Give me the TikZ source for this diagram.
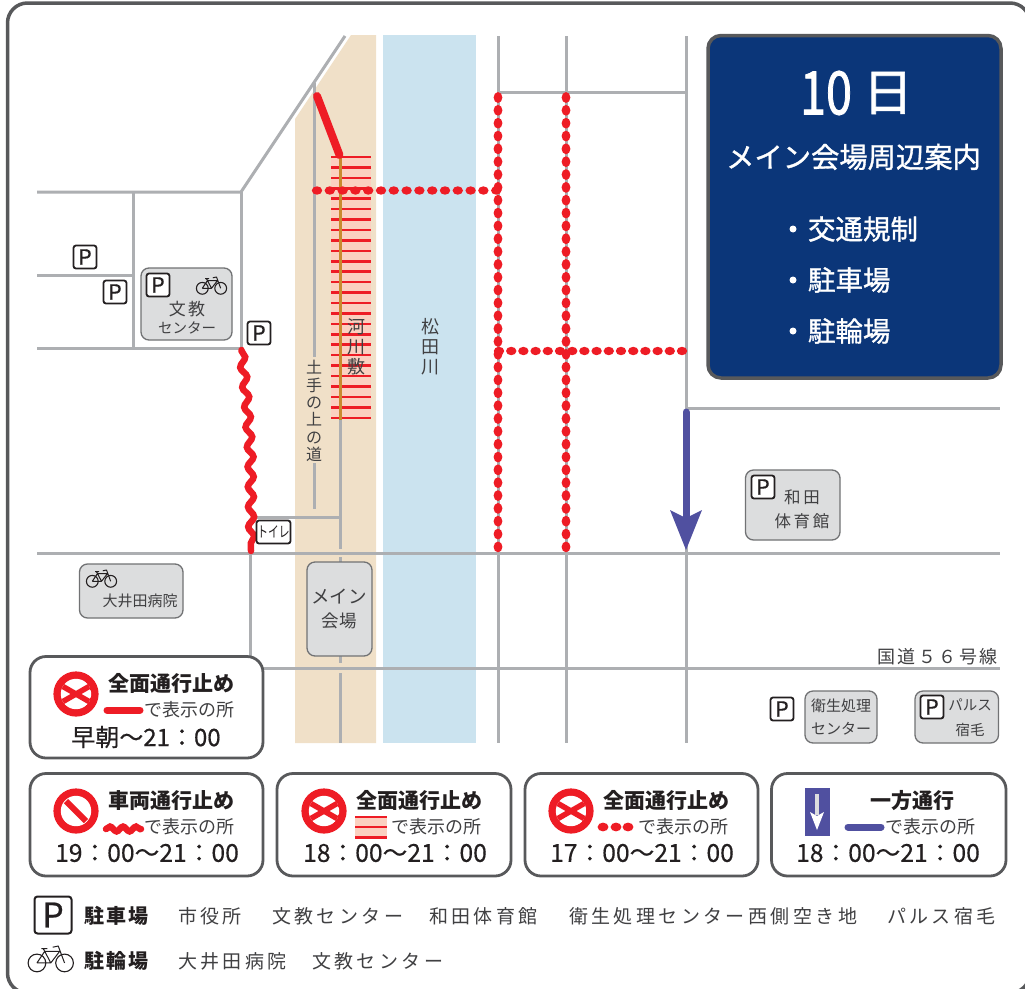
\documentclass[tikz,border=0pt]{standalone}
\usepackage{fontspec}
\setmainfont{Noto Sans CJK JP}
\usetikzlibrary{decorations.pathmorphing,shapes.geometric}
\definecolor{roadc}{HTML}{ADAFB2}
\definecolor{framec}{HTML}{58595B}
\definecolor{navy}{HTML}{0B3679}
\definecolor{beige}{HTML}{F0E0C8}
\definecolor{river}{HTML}{CBE3EF}
\definecolor{signred}{HTML}{EE1C25}
\definecolor{hatchp}{HTML}{FBD0C0}
\definecolor{oneway}{HTML}{5050A0}
\definecolor{bldg}{HTML}{DCDDDE}
\definecolor{inkc}{HTML}{231F20}
\definecolor{softink}{HTML}{404042}
\definecolor{ochre}{HTML}{C98A2E}
\newcommand{\fs}[1]{\fontsize{#1}{#1}\selectfont}
\newcommand{\lsp}[1]{\addfontfeature{LetterSpace=#1}}
\newcommand{\emb}[1]{\addfontfeature{FakeBold=#1}}
\tikzset{
  road/.style={draw=roadc,line width=3pt},
  txt/.style={inner sep=0pt,outer sep=0pt,text=inkc},
  soft/.style={inner sep=0pt,outer sep=0pt,text=softink},
  whitetxt/.style={inner sep=0pt,outer sep=0pt,text=white},
  bldgbox/.style={draw=framec!85,line width=1.3pt,fill=bldg,rounded corners=8pt},
  legendbox/.style={draw=framec,line width=2.8pt,fill=white,rounded corners=16pt},
  picon/.style={draw=inkc,line width=1.8pt,fill=white,rounded corners=2.5pt,minimum width=23pt,minimum height=23pt,inner sep=0pt,text=inkc,font=\fs{21}\emb{0.5}},
  timetxt/.style={inner sep=0pt,outer sep=0pt,text=inkc,font=\fs{24.7}\emb{0.4}},
  reddot/.style={fill=signred,draw=none},
  listtxt/.style={inner sep=0pt,outer sep=0pt,text=softink,anchor=west,font=\fs{19}\lsp{18}},
  keytxt/.style={inner sep=0pt,outer sep=0pt,text=inkc,anchor=west,font=\fs{20}\bfseries\lsp{12}},
  pics/bike/.style={code={
    \draw[inkc,line width=1.1pt] (-8.7,3.3) circle (5.9) (9.7,3.3) circle (5.9);
    \draw[inkc,line width=1pt,line join=round]
      (-8.7,3.3) -- (-3.5,-4.5) -- (6.5,-4.5) -- (.5,3.3) -- (-8.7,3.3)
      (-3.5,-4.5) -- (.5,3.3)
      (9.7,3.3) -- (5.5,-8) -- (1.8,-7.2)
      (-5.8,-6.3) -- (-1.8,-6.3) (-4.6,-6.3) -- (-3.5,-4.5);
  }}
}
\newcommand{\nosign}[2]{%
  \fill[signred] (#1,#2) circle (22.6);
  \begin{scope}
    \clip (#1,#2) circle (15.2);
    \fill[white] (#1,#2) circle (15.2);
    \draw[signred,line width=5.5pt] ([shift={(-20,-11.5)}]#1,#2) -- ([shift={(20,11.5)}]#1,#2);
    \draw[signred,line width=5.5pt] ([shift={(-20,11.5)}]#1,#2) -- ([shift={(20,-11.5)}]#1,#2);
  \end{scope}}
\begin{document}
\begin{tikzpicture}[x=1pt,y=-1pt]
\useasboundingbox (0,0) rectangle (1025,988);
\fill[white] (0,0) rectangle (1025,988);
% outer frame
\begin{scope}
\clip (0,0) rectangle (1025,988);
\draw[framec,line width=3.5pt,rounded corners=20pt] (7.5,3) rectangle (1030,993);
\end{scope}
% land strips
\fill[beige] (351,35) -- (376,35) -- (376,743) -- (295,743) -- (295,119) -- cycle;
\fill[river] (383,35) rectangle (476,743);
% roads
\coordinate (dA) at (241,192);
\coordinate (dB) at (345,36);
\draw[road] (37,553) -- (1000,553);
\draw[road] (250,668) -- (1000,668);
\draw[road] (686,408) -- (1000,408);
\draw[road] (498,92) -- (686,92);
\draw[road] (37,192) -- (dA) -- (dB);
\draw[road] (37,275) -- (133,275);
\draw[road] (37,348) -- (241,348);
\draw[road] (133,192) -- (133,348);
\draw[road] (241,192) -- (241,348);
\draw[road] (498,36) -- (498,743);
\draw[road] (566,36) -- (566,743);
\draw[road] (686,36) -- (686,743);
\draw[road] (250,553) -- (250,668);
\draw[road] (314,83) -- (314,357);
\draw[road] (314,463) -- (314,509);
\draw[road] (252,517) -- (340,517);
\draw[road] (340,420) -- (340,549);
\draw[road] (340,557) -- (340,563);
\draw[road] (340,655) -- (340,663);
\draw[road] (340,673) -- (340,743);
% hatch
\fill[hatchp] (331,157) rectangle (371,419);
\foreach \k in {0,...,25}{\draw[signred,line width=2.5pt] (331,157+\k*10.43) -- (371,157+\k*10.43);}
\draw[ochre,line width=3pt] (340,157) -- (340,420);
% closures
\draw[signred,line width=8pt,line cap=round] (317,96) -- (339.5,155);
\foreach \k in {0,...,35}{
  \fill[reddot] (498,97.5+\k*12.84) ellipse (4.4 and 5.4);
  \fill[reddot] (566,97.5+\k*12.84) ellipse (4.4 and 5.4);}
\foreach \k in {0,...,14}{\fill[reddot] (317+\k*12.8,190.5) ellipse (5.2 and 4.2);}
\foreach \k in {0,...,15}{\fill[reddot] (499+\k*12.2,351) ellipse (5.2 and 4.2);}
\coordinate (wA) at (241.5,350);
\coordinate (wB) at (247,405);
\coordinate (wC) at (250,450);
\coordinate (wD) at (251,551);
\draw[signred,line width=6.5pt,line cap=round,decorate,decoration={snake,segment length=20pt,amplitude=3pt,post length=1pt,pre length=1pt}] (wA) -- (wB) -- (wC) -- (wD);
% one-way arrow
\coordinate (aT) at (686,412);
\coordinate (aB) at (686,520);
\draw[oneway,line width=7pt,line cap=round] (aT) -- (aB);
\fill[oneway] (670,510) -- (686,518) -- (702,510) -- (686,550) -- cycle;
% river labels
\node[soft,align=center,font=\fontsize{18}{20}\selectfont] (nKasen) at (356,347) {河\\川\\敷};
\node[soft,align=center,font=\fontsize{18}{20}\selectfont] (nMatsu) at (430,347) {松\\田\\川};
\node[soft,align=center,font=\fontsize{16}{17.3}\selectfont] (nDote) at (314,411) {土\\手\\の\\上\\の\\道};
% buildings
\draw[bldgbox] (141,268) rectangle (232,340);
\node[picon] (p3) at (158,285) {P};
\pic at (211,285) {bike};
\node[soft,font=\fs{17}\lsp{12}] (b1a) at (187,309) {文教};
\node[soft,font=\fs{14.5}] (b1b) at (187,328) {センター};
\draw[bldgbox] (79.5,564) rectangle (183,618);
\pic at (101,578) {bike};
\node[soft,font=\fs{15}] (b2) at (140,601) {大井田病院};
\draw[bldgbox] (307,562) rectangle (372,656);
\node[soft,font=\fs{18.5}] (b3a) at (339,597) {メイン};
\node[soft,font=\fs{17.5}] (b3b) at (339,621) {会場};
\draw[bldgbox] (745.5,470) rectangle (840,540);
\node[picon] (p5) at (763,487) {P};
\node[soft,font=\fs{16.5}\lsp{16}] (b4a) at (802,497) {和田};
\node[soft,font=\fs{16.5}\lsp{16}] (b4b) at (802,521) {体育館};
\draw[bldgbox] (805,691) rectangle (877,743);
\node[soft,font=\fs{15}] (b5a) at (841,706) {衛生処理};
\node[soft,font=\fs{15}] (b5b) at (841,729) {センター};
\draw[bldgbox] (915,691) rectangle (998.5,743);
\node[picon] (p7) at (932,707) {P};
\node[soft,font=\fs{14.5}] (b6a) at (970,705) {パルス};
\node[soft,font=\fs{14.5}] (b6b) at (970,730) {宿毛};
\node[picon] (p1) at (85,257) {P};
\node[picon] (p2) at (115,292) {P};
\node[picon] (p4) at (259,333) {P};
\node[picon] (p6) at (782,709) {P};
\node[draw=inkc,line width=1.8pt,fill=white,rounded corners=2.5pt,minimum width=34pt,minimum height=23pt,inner sep=0pt,text=inkc,font=\fs{15}] (toilet) at (273.5,532) {\scalebox{.72}[1]{トイレ}};
\node[soft,anchor=east,font=\fs{18}\lsp{14}] (route) at (998,657) {国道５６号線};
% title panel
\draw[framec,line width=3.5pt,fill=navy,rounded corners=13pt] (708,35.5) rectangle (1001,378);
\node[whitetxt,font=\fs{60}\emb{1.6}] (tDay) at (826,93) {\scalebox{.78}[1]{10}};
\node[whitetxt,font=\fs{50}\emb{1.4}] (tHi) at (888,93) {日};
\node[whitetxt,font=\fs{28.3}\emb{1.2}] (tSub) at (853.5,157) {メイン会場周辺案内};
\fill[white] (793,229) circle (3.5) (793,280) circle (3.5) (793,331) circle (3.5);
\node[whitetxt,anchor=west,font=\fs{27.5}\emb{1.2}] (t1) at (808,229) {交通規制};
\node[whitetxt,anchor=west,font=\fs{27.5}\emb{1.2}] (t2) at (808,280) {駐車場};
\node[whitetxt,anchor=west,font=\fs{27.5}\emb{1.2}] (t3) at (808,331) {駐輪場};
% legend A
\draw[legendbox] (30,656.5) rectangle (263,758);
\nosign{76}{694}
\node[txt,font=\fs{21}\bfseries] (la1) at (171,683) {全面通行止め};
\draw[signred,line width=7pt,line cap=round] (107,710) -- (140,710);
\node[soft,font=\fs{18}] (la2) at (189,710) {で表示の所};
\node[txt,font=\fs{24}\emb{0.6}] (la3) at (146,737) {早朝〜21：00};
% legend B
\draw[legendbox] (30,773.5) rectangle (263,876);
\fill[signred] (76,811) circle (22.6);
\fill[white] (76,811) circle (15.2);
\draw[signred,line width=6pt] (66,801) -- (86,821);
\node[txt,font=\fs{21}\bfseries] (lb1) at (171,800.5) {車両通行止め};
\coordinate (wlA) at (106,829);
\coordinate (wlB) at (141,829);
\draw[signred,line width=6.5pt,line cap=round,decorate,decoration={snake,segment length=13pt,amplitude=2.4pt}] (wlA) -- (wlB);
\node[soft,font=\fs{18}] (lb2) at (189,827) {で表示の所};
\node[timetxt] (lb3) at (147,853) {19：00〜21：00};
% legend C
\draw[legendbox] (277,773.5) rectangle (511,876);
\nosign{324}{811}
\node[txt,font=\fs{21}\bfseries] (lc1) at (419,800.5) {全面通行止め};
\fill[hatchp] (355,816) rectangle (387,838);
\foreach \yy in {817,827.3,837.5}{\draw[signred,line width=2.2pt] (355,\yy) -- (387,\yy);}
\node[soft,font=\fs{18}] (lc2) at (436,827) {で表示の所};
\node[timetxt] (lc3) at (395,853) {18：00〜21：00};
% legend D
\draw[legendbox] (525,773.5) rectangle (758,876);
\nosign{571}{811}
\node[txt,font=\fs{21}\bfseries] (ld1) at (666,800.5) {全面通行止め};
\foreach \xx in {603,616,628}{\fill[reddot] (\xx,827) ellipse (5.4 and 4.4);}
\node[soft,font=\fs{18}] (ld2) at (683,827) {で表示の所};
\node[timetxt] (ld3) at (642,853) {17：00〜21：00};
% legend E
\draw[legendbox] (771.5,773.5) rectangle (1006,876);
\fill[oneway] (805,788) rectangle (830,836);
\fill[bldg] (815,794) rectangle (819,815);
\fill[white] (817,830) -- (810,812) -- (817,816) -- (824,812) -- cycle;
\node[txt,font=\fs{21}\bfseries] (le1) at (912,800.5) {一方通行};
\draw[oneway,line width=7pt,line cap=round] (848,827) -- (881,827);
\node[soft,font=\fs{18}] (le2) at (930,827) {で表示の所};
\node[timetxt] (le3) at (888,853) {18：00〜21：00};
% bottom lists
\node[draw=inkc,line width=2pt,fill=white,rounded corners=3pt,minimum width=37pt,minimum height=37pt,inner sep=0pt,text=inkc,font=\fs{34}\emb{0.6}] (pBig) at (53,915) {P};
\pic[scale=1.5] at (50,958) {bike};
\node[keytxt] (k1) at (84,916) {駐車場};
\node[keytxt] (k2) at (84,961) {駐輪場};
\node[listtxt] (v1) at (178,916) {市役所};
\node[listtxt] (v2) at (272,916) {文教センター};
\node[listtxt] (v3) at (429,916) {和田体育館};
\node[listtxt] (v4) at (569,916) {衛生処理センター西側空き地};
\node[listtxt] (v5) at (887,916) {パルス宿毛};
\node[listtxt] (v6) at (178,961) {大井田病院};
\node[listtxt] (v7) at (312,961) {文教センター};
\end{tikzpicture}
\end{document}
